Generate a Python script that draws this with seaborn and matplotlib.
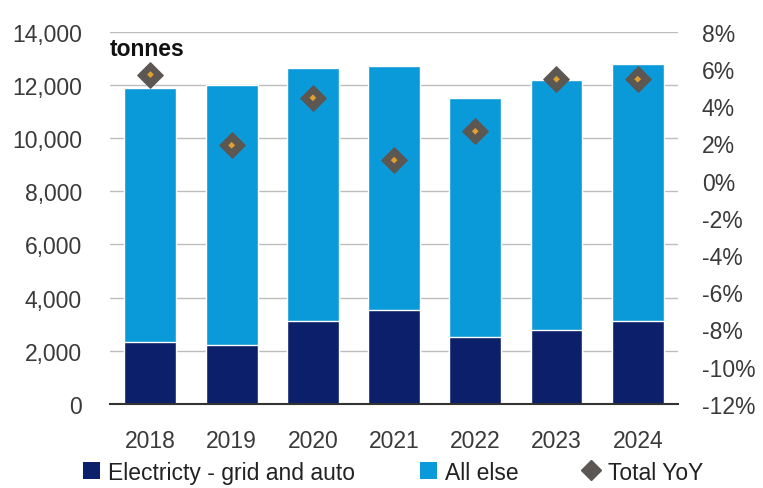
import matplotlib
matplotlib.use("Agg")
import matplotlib.pyplot as plt
import matplotlib.ticker as mticker
from matplotlib.lines import Line2D
from matplotlib.patches import Patch
import seaborn as sns
import pandas as pd

years = ["2018", "2019", "2020", "2021", "2022", "2023", "2024"]
electricity = [2320, 2230, 3110, 3540, 2510, 2790, 3110]
all_else = [9560, 9770, 9520, 9160, 8990, 9410, 9690]
total_yoy = [5.7, 1.9, 4.45, 1.1, 2.65, 5.45, 5.45]

DARK = "#0b1f6b"
LIGHT = "#0a9ad9"
DIAMOND = "#5c5752"
DOT = "#e0a030"
TEXT = "#3a3a3a"

sns.set_theme(style="white")
plt.rcParams["font.family"] = ["Liberation Sans Narrow", "Liberation Sans", "DejaVu Sans"]

df = pd.DataFrame({"year": years, "electricity": electricity, "all_else": all_else, "yoy": total_yoy})
df["total"] = df["electricity"] + df["all_else"]

fig = plt.figure(figsize=(7.63, 4.89), dpi=100)
ax = fig.add_axes([0.144, 0.172, 0.745, 0.761])

# stacked bars: total (light) drawn first, electricity (dark) over it
sns.barplot(data=df, x="year", y="total", color=LIGHT, width=0.64, ax=ax, saturation=1)
sns.barplot(data=df, x="year", y="electricity", color=DARK, width=0.64, ax=ax, saturation=1)

ax.set_xlim(-0.5, 6.5)
ax.set_ylim(0, 14000)
ax.set_yticks(range(0, 14001, 2000))
ax.yaxis.set_major_formatter(mticker.FuncFormatter(lambda v, p: f"{int(v):,}"))
ax.yaxis.grid(True, color="#bdbdbd", linewidth=1)
ax.set_axisbelow(True)
for s in ["left", "right", "top"]:
    ax.spines[s].set_visible(False)
ax.spines["bottom"].set_color("#333333")
ax.spines["bottom"].set_linewidth(1.5)
ax.set_xlabel("")
ax.set_ylabel("")
ax.tick_params(axis="y", length=0, pad=20, labelsize=16.5, labelcolor=TEXT)
ax.tick_params(axis="x", length=0, pad=18, labelsize=16.5, labelcolor=TEXT)

ax.text(0.0, 0.985, "tonnes", transform=ax.transAxes, fontsize=16.5, fontweight="bold",
        color="#111111", va="top", ha="left")

# year-over-year change on the secondary axis
ax2 = ax.twinx()
sns.scatterplot(x=list(range(len(years))), y=df["yoy"], marker="D", s=165, color=DIAMOND,
                edgecolor=DIAMOND, ax=ax2, zorder=5, legend=False)
sns.scatterplot(x=list(range(len(years))), y=df["yoy"], marker="D", s=12, color=DOT,
                edgecolor="none", ax=ax2, zorder=6, legend=False)
ax2.set_ylim(-12, 8)
ax2.set_yticks(range(-12, 9, 2))
ax2.yaxis.set_major_formatter(mticker.FuncFormatter(lambda v, p: f"{int(v)}%"))
for s in ["left", "right", "top", "bottom"]:
    ax2.spines[s].set_visible(False)
ax2.tick_params(axis="y", length=0, pad=17, labelsize=16.5, labelcolor=TEXT)
ax2.set_ylabel("")
ax2.grid(False)

handles = [
    Patch(facecolor=DARK, edgecolor="none", label="Electricty - grid and auto"),
    Patch(facecolor=LIGHT, edgecolor="none", label="All else"),
    Line2D([], [], marker="D", linestyle="none", markersize=10, markerfacecolor=DIAMOND,
           markeredgecolor=DIAMOND, label="Total YoY"),
]
fig.legend(handles=handles, loc="lower left", bbox_to_anchor=(0.082, -0.033), ncol=3,
           frameon=False, fontsize=16.5, handlelength=0.75, handleheight=0.75,
           handletextpad=0.35, columnspacing=2.8, labelcolor="#222222")

fig.savefig("out.png", dpi=100)
